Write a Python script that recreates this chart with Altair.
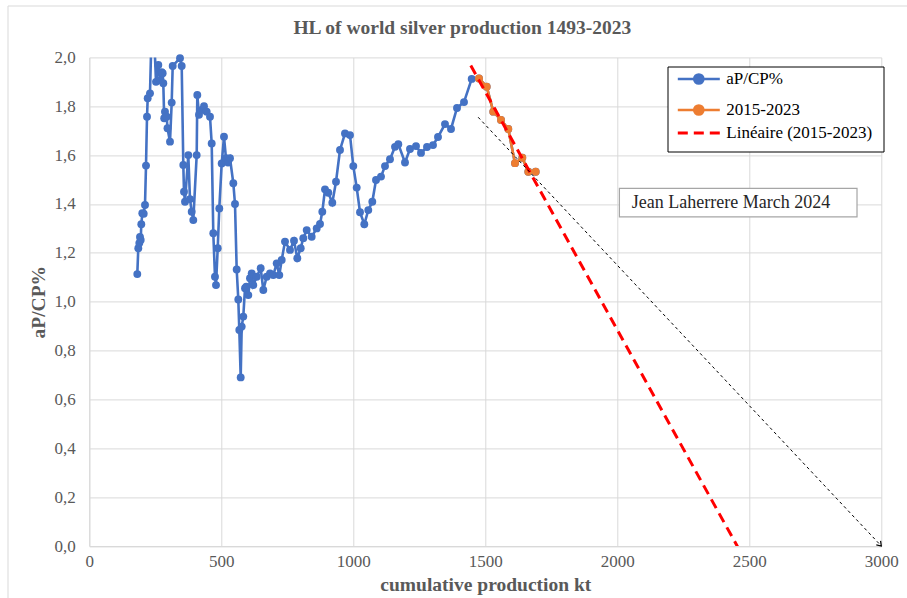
import altair as alt
import pandas as pd

# Hubbert linearisation of world silver production: annual production as a
# percentage of cumulative production (aP/CP%) against cumulative production (kt)
cum_kt = [181.8, 185.6, 189.4, 192.0, 194.7, 197.0, 200.8, 206.1, 211.0, 214.8,
          218.6, 221.2, 229.9, 239.4, 252.7, 261.4, 267.8, 274.2, 278.0, 280.3,
          283.7, 286.7, 293.2, 296.2, 305.7, 312.1, 315.9, 343.6, 350.0, 356.1,
          358.7, 362.5, 375.0, 381.4, 387.9, 393.9, 406.8, 409.1, 415.5, 425.8,
          434.5, 444.7, 457.2, 463.6, 469.7, 476.1, 479.9, 486.4, 492.4, 501.5,
          510.2, 517.8, 525.4, 533.0, 545.5, 551.9, 558.3, 564.4, 568.2, 573.5,
          577.3, 583.3, 589.8, 594.7, 602.3, 608.7, 615.2, 621.2, 634.1, 649.2,
          659.1, 672.0, 684.5, 697.0, 709.8, 719.7, 728.8, 741.3, 760.2, 775.4,
          787.9, 800.8, 810.6, 823.5, 842.4, 861.4, 873.9, 882.6, 892.8, 905.3,
          920.5, 934.5, 949.6, 968.6, 987.5, 1000.0, 1012.9, 1025.4, 1041.7, 1056.8,
          1072.0, 1086.0, 1104.9, 1120.1, 1139.0, 1158.0, 1170.5, 1195.8, 1214.8, 1237.5,
          1256.4, 1279.2, 1301.9, 1320.8, 1347.3, 1370.1, 1392.8, 1419.3, 1448.5]
ap_cp = [1.113, 1.219, 1.240, 1.265, 1.253, 1.317, 1.362, 1.360, 1.396, 1.557,
         1.757, 1.833, 1.853, 2.25, 1.900, 1.969, 1.907, 1.939, 1.935, 1.894,
         1.751, 1.778, 1.757, 1.710, 1.655, 1.815, 1.965, 1.997, 1.965, 1.560,
         1.450, 1.409, 1.600, 1.420, 1.368, 1.334, 1.600, 1.846, 1.765, 1.785,
         1.800, 1.778, 1.757, 1.648, 1.280, 1.102, 1.068, 1.219, 1.382, 1.566,
         1.675, 1.587, 1.570, 1.587, 1.485, 1.400, 1.132, 1.009, 0.884, 0.690,
         0.898, 0.939, 1.055, 1.061, 1.027, 1.096, 1.116, 1.068, 1.102, 1.137,
         1.048, 1.102, 1.116, 1.109, 1.157, 1.109, 1.171, 1.246, 1.212, 1.250,
         1.178, 1.219, 1.260, 1.293, 1.266, 1.300, 1.318, 1.368, 1.460, 1.446,
         1.405, 1.491, 1.621, 1.689, 1.682, 1.555, 1.467, 1.366, 1.317, 1.375,
         1.409, 1.498, 1.512, 1.555, 1.583, 1.634, 1.645, 1.570, 1.625, 1.637,
         1.609, 1.633, 1.641, 1.674, 1.727, 1.707, 1.793, 1.817, 1.912]

# 2015-2023
cum_kt_recent = [1476.1, 1505.3, 1530.3, 1559.5, 1587.1, 1612.5, 1640.2, 1662.9, 1690.9]
ap_cp_recent = [1.914, 1.880, 1.778, 1.744, 1.707, 1.567, 1.589, 1.532, 1.532]

SERIES = ["aP/CP%", "2015-2023"]
TREND_LABEL = "Linéaire (2015-2023)"
BLUE, ORANGE, RED = "#4472C4", "#ED7D31", "#FF0000"
TREND_EXTENT = [1445, 2600]

# hand-drawn guide arrow and text box
arrow_cp = [1473, 3000]
arrow_ratio = [1.755, 0.0]
note_text = ["Jean Laherrere March 2024"]
note_box = {"cp": [2008], "cp2": [2908], "ratio": [1.464], "ratio2": [1.347]}
note_pos = {"cp": [2055], "ratio": [1.384]}

FONT = "Liberation Serif"
GREY = "#595959"

df_all = pd.DataFrame({"cp": cum_kt + cum_kt_recent,
                       "ratio": ap_cp + ap_cp_recent,
                       "series": SERIES[0]})
df_recent = pd.DataFrame({"cp": cum_kt_recent, "ratio": ap_cp_recent, "series": SERIES[1]})
df_arrow = pd.DataFrame({"cp": arrow_cp, "ratio": arrow_ratio})
df_box = pd.DataFrame(note_box)
df_note = pd.DataFrame({"cp": note_pos["cp"], "ratio": note_pos["ratio"], "txt": note_text})

xs = alt.Scale(domain=[0, 3000], nice=False, zero=False)
ys = alt.Scale(domain=[0, 2], nice=False)

x_axis = alt.Axis(values=[0, 500, 1000, 1500, 2000, 2500, 3000], format="d",
                  title="cumulative production kt", labelPadding=7, labelFlush=False,
                  titleY=44, titleBaseline="alphabetic")
y_axis = alt.Axis(values=[0, 0.2, 0.4, 0.6, 0.8, 1.0, 1.2, 1.4, 1.6, 1.8, 2.0],
                  labelExpr="replace(format(datum.value, '.1f'), '.', ',')",
                  title="aP/CP%", labelPadding=14, labelFlush=False,
                  titleX=-51, titleBaseline="middle")

x_enc = alt.X("cp:Q", scale=xs, axis=x_axis)
y_enc = alt.Y("ratio:Q", scale=ys, axis=y_axis)

# legend symbols: a line with a marker for the data series, a dashed line for the fit
LINE_DOT = "M-3,0L3,0M0.66,0A0.66,0.66,0,1,1,-0.66,0A0.66,0.66,0,1,1,0.66,0Z"
LINE_ONLY = "M-3,0L3,0"
LEG_X, LEG_Y, ROW = 590, 13.1, 27
common_leg = dict(title=None, orient="none", legendX=LEG_X, padding=0,
                  labelFont=FONT, labelFontSize=17, labelColor="black",
                  symbolSize=196, symbolOffset=11, labelOffset=19, rowPadding=10)

color_enc = alt.Color(
    "series:N", scale=alt.Scale(domain=SERIES, range=[BLUE, ORANGE]),
    legend=alt.Legend(legendY=LEG_Y, symbolType=LINE_DOT, symbolStrokeWidth=2.5,
                      symbolOpacity=1, **common_leg))
dash_enc = alt.StrokeDash(
    "fit:N", scale=alt.Scale(domain=[TREND_LABEL], range=[[10, 6]]),
    legend=alt.Legend(legendY=LEG_Y + 2 * ROW, symbolType=LINE_ONLY,
                      symbolStrokeColor=RED, symbolStrokeWidth=3, **common_leg))

# white legend panel with black border
panel = alt.Chart(pd.DataFrame({"k": [0]})).mark_rect(
    fill="white", stroke="black", strokeWidth=1).encode(
    x=alt.value(578.7), x2=alt.value(794.7), y=alt.value(9.6), y2=alt.value(94.6))

blue_line = alt.Chart(df_all).mark_line(strokeWidth=2.6, clip=True).encode(
    x=x_enc, y=y_enc, color=color_enc)
blue_pts = alt.Chart(df_all).transform_filter("datum.ratio <= 2").mark_circle(
    size=62, opacity=1).encode(x=x_enc, y=y_enc, color=color_enc)
orange_line = alt.Chart(df_recent).mark_line(strokeWidth=2.6, clip=True).encode(
    x=x_enc, y=y_enc, color=color_enc)
orange_pts = alt.Chart(df_recent).mark_circle(size=62, opacity=1).encode(
    x=x_enc, y=y_enc, color=color_enc)

# linear trend of the 2015-2023 points, extended down to the x axis
trend = (alt.Chart(df_recent)
         .transform_regression("cp", "ratio", extent=TREND_EXTENT)
         .transform_calculate(fit="'" + TREND_LABEL + "'")
         .mark_line(color=RED, strokeWidth=3, clip=True)
         .encode(x=x_enc, y=y_enc, strokeDash=dash_enc))

arrow_line = alt.Chart(df_arrow).mark_line(
    color="black", strokeWidth=1, strokeDash=[3, 3]).encode(x=x_enc, y=y_enc)
arrow_head = alt.Chart(df_arrow).transform_filter("datum.ratio == 0").mark_point(
    shape="M-1,-0.7L0,0L-1,0.7", angle=47, filled=False, color="black",
    strokeWidth=1.2, size=70, opacity=1).encode(x=x_enc, y=y_enc)

box = alt.Chart(df_box).mark_rect(fill="white", stroke="#a6a6a6", strokeWidth=1.2).encode(
    x=x_enc, x2="cp2:Q", y=y_enc, y2="ratio2:Q")
note = alt.Chart(df_note).mark_text(
    font=FONT, fontSize=18, color="#262626", align="left", baseline="alphabetic").encode(
    x=x_enc, y=y_enc, text="txt:N")

# light outline of the chart area
frame_src = pd.DataFrame({"k": [0]})
frame_left = alt.Chart(frame_src).mark_rule(color="#d9d9d9", strokeWidth=1).encode(
    x=alt.value(-81.3), y=alt.value(-51.4), y2=alt.value(545))
frame_top = alt.Chart(frame_src).mark_rule(color="#d9d9d9", strokeWidth=1).encode(
    x=alt.value(-81.3), x2=alt.value(820), y=alt.value(-51.4))

# the title is offset from the top of the group's bounds (the outline above),
# so a negative offset brings it back down inside the outline
chart = alt.layer(
    frame_left, frame_top,
    blue_line, blue_pts, orange_line, orange_pts, trend,
    arrow_line, arrow_head, box, note, panel,
).properties(
    width=792, height=488.6,
    autosize=alt.AutoSizeParams(type="none"),
    padding={"left": 89.3, "top": 57.4, "right": 25.7, "bottom": 52},
    title=alt.Title("HL of world silver production 1493-2023", font=FONT, fontSize=19.5,
                    fontWeight="bold", color=GREY, anchor="middle", frame="group",
                    dx=-23, offset=-33),
).configure_view(stroke=None).configure_axis(
    labelFont=FONT, labelFontSize=17, labelColor=GREY,
    titleFont=FONT, titleFontSize=19.5, titleFontWeight="bold", titleColor=GREY,
    gridColor="#d9d9d9", domainColor="#d9d9d9", ticks=False,
)

chart.save("out.html", embed_options={"renderer": "svg", "actions": False})
